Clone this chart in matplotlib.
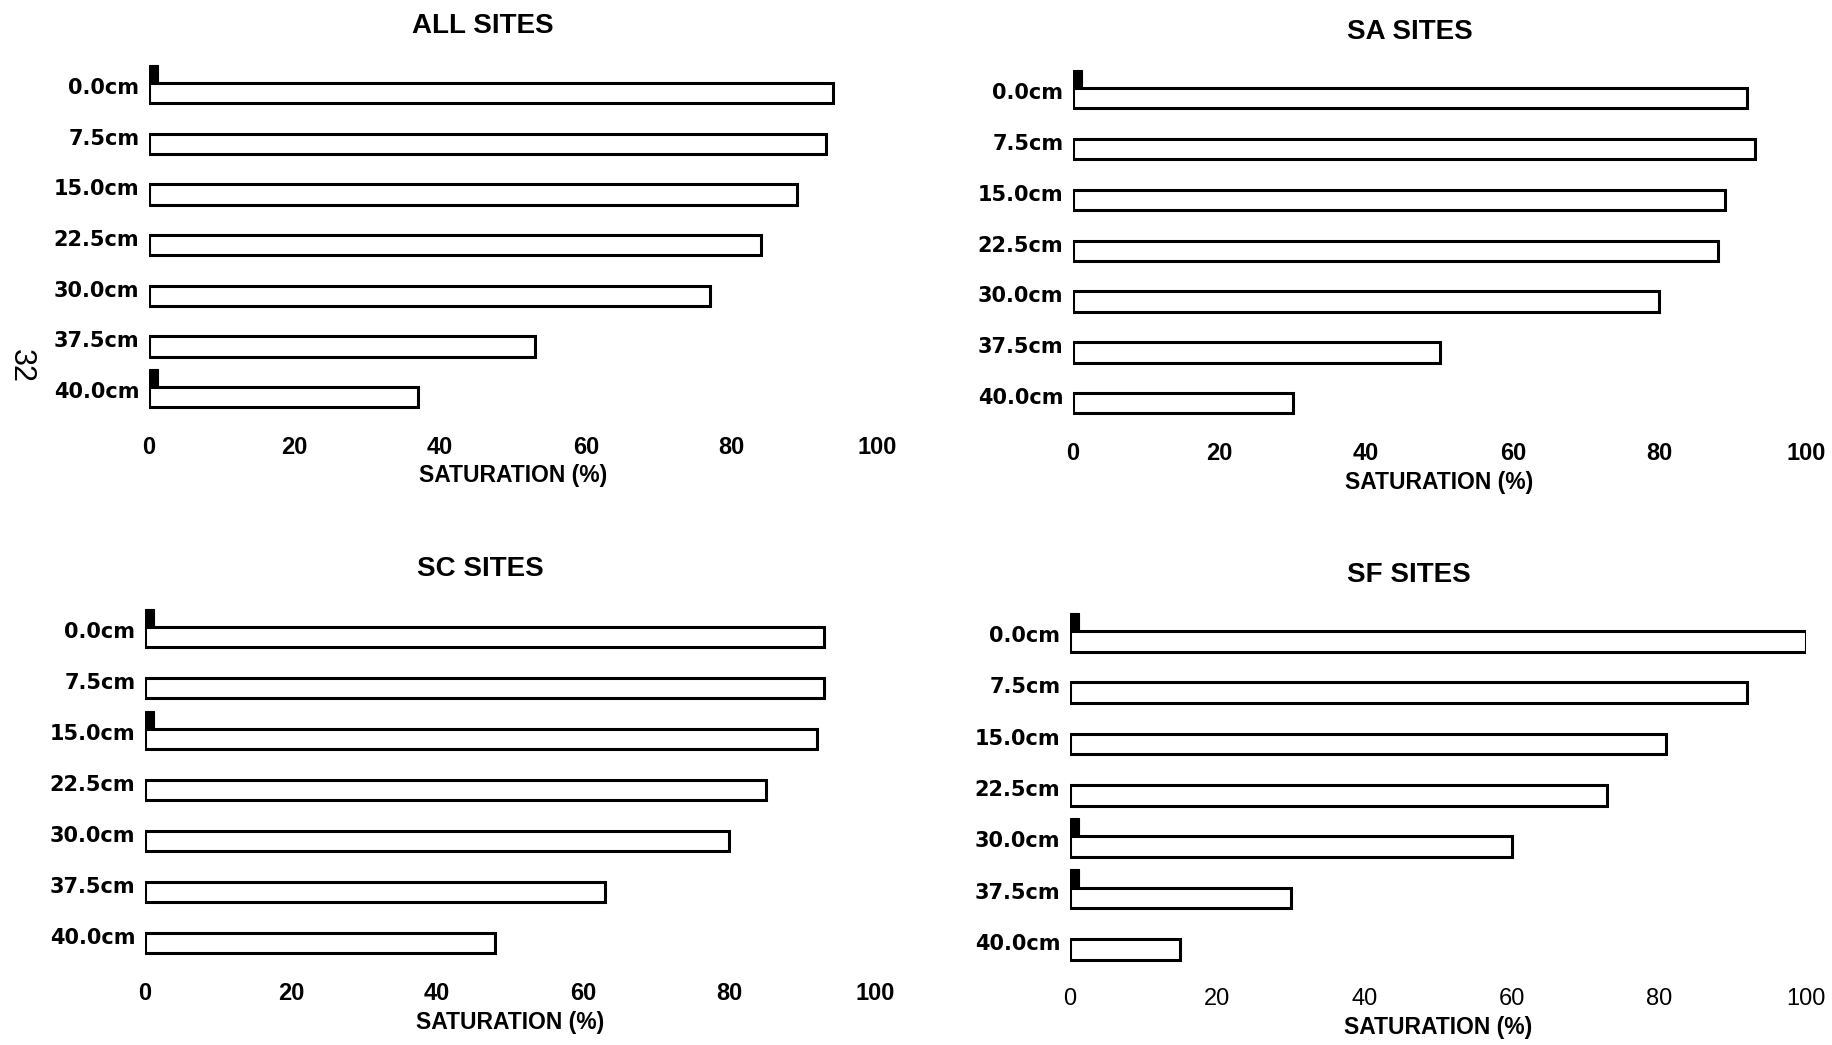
import numpy as np
import matplotlib
matplotlib.use("Agg")
import matplotlib.pyplot as plt

# depth classes, top to bottom
depths = ["0.0cm", "7.5cm", "15.0cm", "22.5cm", "30.0cm", "37.5cm", "40.0cm"]
ticks = [0, 20, 40, 60, 80, 100]

# saturation (%) per depth for each site group
all_sat = [94, 93, 89, 84, 77, 53, 37]
sa_sat = [92, 93, 89, 88, 80, 50, 30]
sc_sat = [93, 93, 92, 85, 80, 63, 48]
sf_sat = [100, 92, 81, 73, 60, 30, 15]

# small black bars drawn above some depths
all_blk = [1.2, 0, 0, 0, 0, 0, 1.2]
sa_blk = [1.2, 0, 0, 0, 0, 0, 0]
sc_blk = [1.2, 0, 1.2, 0, 0, 0, 0]
sf_blk = [1.2, 0, 0, 0, 1.2, 1.2, 0]

W, H = 1832, 1045
fig = plt.figure(figsize=(W / 100, H / 100), dpi=100)

TICK_FONT = ["Liberation Sans Narrow", "Liberation Sans", "DejaVu Sans"]
HEAD_FONT = ["Liberation Sans", "DejaVu Sans"]
LBL_FONT = ["DejaVu Sans"]

# panel layout in pixels: x of 0%, x of 100%, y of first and last group, title pos, bold ticks
panels = [
    ("ALL SITES", all_sat, all_blk, 149, 877, 83, 387, (483, 26), True),
    ("SA SITES", sa_sat, sa_blk, 1073, 1806, 88, 393, (1410, 32), True),
    ("SC SITES", sc_sat, sc_blk, 145, 875, 627, 933, (480, 569), True),
    ("SF SITES", sf_sat, sf_blk, 1070, 1806, 631, 939, (1409, 575), False),
]

h = 0.4
for title, sat, blk, x0, x1, yf, yl, tpos, bold_ticks in panels:
    ppu = (yl - yf) / 6
    top = yf - 0.5 * ppu
    bot = yl + 0.5 * ppu
    ax = fig.add_axes([x0 / W, 1 - bot / H, (x1 - x0) / W, (bot - top) / H])

    y = np.arange(len(depths))
    sat = np.array(sat)
    blk = np.array(blk)
    ax.barh(y + h / 2, sat, height=h, color="white", edgecolor="black", linewidth=2.2)
    m = blk > 0
    ax.barh(y[m] - h / 2 + 0.02, blk[m], height=h - 0.04, color="black",
            edgecolor="black", linewidth=0.8)

    ax.set_xlim(0, 100)
    ax.set_ylim(6.5, -0.5)
    for s in ax.spines.values():
        s.set_visible(False)

    ax.set_xticks(ticks)
    ax.set_xticklabels([str(t) for t in ticks], family=TICK_FONT,
                       fontweight="bold" if bold_ticks else "normal", fontsize=17)
    ax.set_yticks(y + 0.06)
    ax.set_yticklabels(depths, family=LBL_FONT, fontweight="bold", fontsize=15)
    ax.tick_params(axis="x", length=0, pad=17)
    ax.tick_params(axis="y", length=0, pad=7)
    ax.set_xlabel("SATURATION (%)", family=HEAD_FONT, fontweight="bold",
                  fontsize=16.5, labelpad=4)

    fig.text(tpos[0] / W, 1 - tpos[1] / H, title, family=HEAD_FONT,
             fontweight="bold", fontsize=20, ha="center", va="center")

# page number
fig.text(21 / W, 1 - 366 / H, "32", family=HEAD_FONT,
         fontsize=22, rotation=-90, ha="center", va="center")

fig.savefig("out.png", dpi=100, facecolor="white")
